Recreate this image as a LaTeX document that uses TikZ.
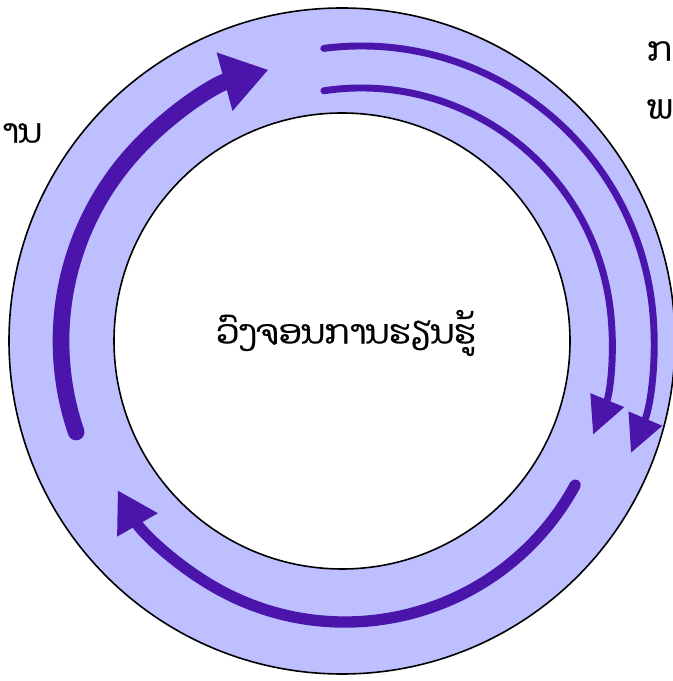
\documentclass[tikz,border=0pt]{standalone}
\usepackage{fontspec}
\newfontfamily\laofont[Script=Lao, FakeBold=0.8]{Dhyana}
\usetikzlibrary{arrows.meta}
\definecolor{ringfill}{HTML}{BDBFFE}
\definecolor{cyclearrow}{HTML}{4B14AB}
\tikzset{
    ringedge/.style={
        draw=black, line width=1.2pt
    },
    thickflow/.style={
        -{Triangle[length=34pt, width=43pt]}, draw=cyclearrow,
        line width=12.5pt, line cap=round
    },
    thinflow/.style={
        -{Triangle[length=28pt, width=26pt]}, draw=cyclearrow,
        line width=5.2pt, line cap=round
    },
    midflow/.style={
        -{Triangle[length=30pt, width=33pt]}, draw=cyclearrow,
        line width=8.5pt, line cap=round
    },
    laolabel/.style={
        font=\laofont\fontsize{25}{30}\selectfont, text=black, inner sep=0pt
    }
}

\begin{document}
\begin{tikzpicture}[x=0.75pt, y=0.75pt]
    \useasboundingbox (0,0) rectangle (673,681);
    \clip (0,0) rectangle (673,681);

    % ── Centres ──
    \coordinate (hub)    at (342,340);
    \coordinate (rightc) at (361,342);
    \coordinate (lowc)   at (345,321);

    % ── Ring ──
    \fill[ringfill, even odd rule] (hub) circle[radius=333] (hub) circle[radius=228];
    \draw[ringedge] (hub) circle[radius=333];
    \draw[ringedge] (hub) circle[radius=228];

    % ── Arrows ──
    \draw[thickflow] (hub) ++(198.9:281) arc[start angle=198.9, end angle=105.2, radius=281];
    \draw[thinflow]  (rightc) ++(97.3:293) arc[start angle=97.3, end angle=-22.9, radius=293];
    \draw[thinflow]  (rightc) ++(98.5:251) arc[start angle=98.5, end angle=-22.4, radius=251];
    \draw[midflow]   (lowc) ++(-28.5:262) arc[start angle=-28.5, end angle=-150.2, radius=262];

    % ── Labels ──
    \node[laolabel] (cycle) at (346,348) {ວົງຈອນການຮຽນຮູ້};
    \node[laolabel, anchor=east] (leftword)   at (42,548)  {ານ};
    \node[laolabel, anchor=west] (rightword1) at (647,630) {ກ};
    \node[laolabel, anchor=west] (rightword2) at (647,572) {ພ};

\end{tikzpicture}
\end{document}
